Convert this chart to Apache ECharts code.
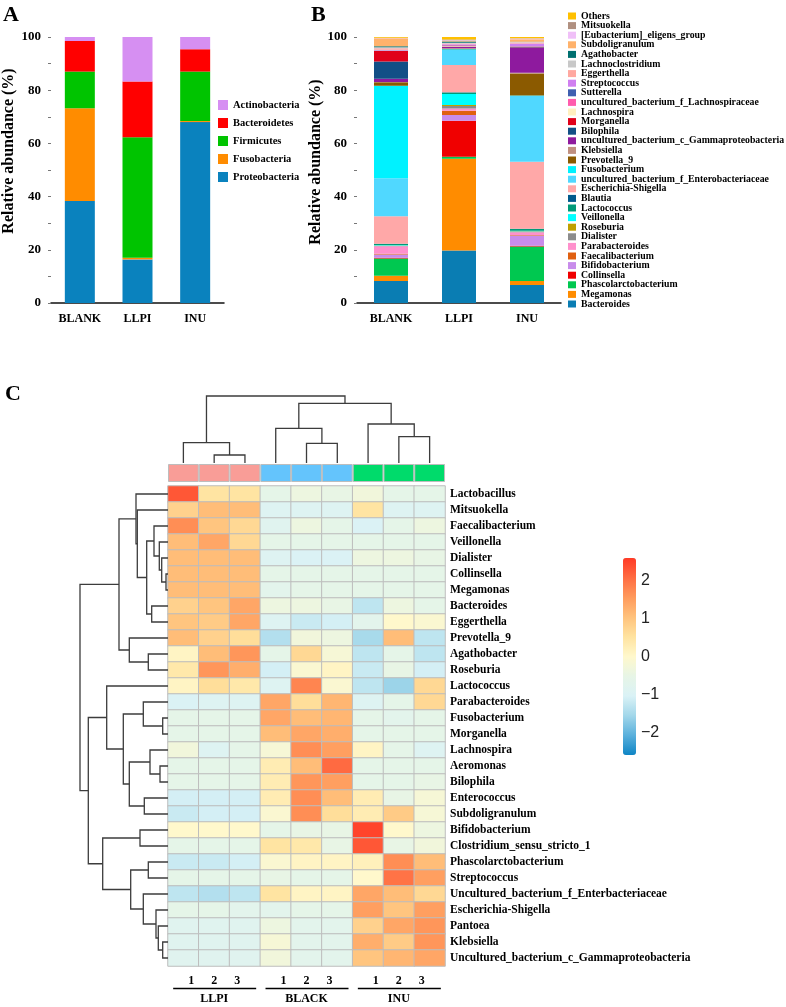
<!DOCTYPE html>
<html><head><meta charset="utf-8">
<script src="https://cdn.jsdelivr.net/npm/echarts/dist/echarts.min.js"></script>
<style>html,body{margin:0;padding:0;background:#fff}#c{width:786px;height:1007px}</style>
</head><body><div id="c"></div>
<script>
// ---------- Panel A: phylum level ----------
const groupsA = ['BLANK', 'LLPI', 'INU'];
const phyla = ['Proteobacteria', 'Fusobacteria', 'Firmicutes', 'Bacteroidetes', 'Actinobacteria']; // bottom -> top
const proteobacteria = [38.3, 16.4, 68.0];
const fusobacteria   = [34.9, 0.6, 0.4];
const firmicutes     = [13.8, 45.3, 18.6];
const bacteroidetes  = [11.5, 21.0, 8.4];
const actinobacteria = [1.5, 16.7, 4.6];
const phylumValues = [proteobacteria, fusobacteria, firmicutes, bacteroidetes, actinobacteria];
const phylumColors = ['#0A82BE', '#FF8C00', '#00C400', '#FF0000', '#D68FF2'];

// ---------- Panel B: genus level (bottom -> top) ----------
const genera = ['Bacteroides','Megamonas','Phascolarctobacterium','Collinsella','Bifidobacterium','Faecalibacterium',
  'Parabacteroides','Dialister','Roseburia','Veillonella','Lactococcus','Blautia','Escherichia-Shigella',
  'uncultured_bacterium_f_Enterobacteriaceae','Fusobacterium','Prevotella_9','Klebsiella',
  'uncultured_bacterium_c_Gammaproteobacteria','Bilophila','Morganella','Lachnospira',
  'uncultured_bacterium_f_Lachnospiraceae','Sutterella','Streptococcus','Eggerthella','Lachnoclostridium',
  'Agathobacter','Subdoligranulum','[Eubacterium]_eligens_group','Mitsuokella','Others'];
const blankGenus = [8.3,1.9,6.5,0.3,1.2,0.3,2.8,0.2,0.1,0.2,0.4,0.1,10.3,14.3,34.8,1.3,0.1,1.2,6.5,3.9,0.1,0.1,0.1,0.2,0.6,0.3,0.4,3.0,0.1,0.1,0.3];
const llpiGenus  = [19.7,34.5,0.8,13.5,2.2,1.6,0.8,1.0,0.3,4.2,0.5,0.1,10.3,5.6,0.3,0.2,0.2,0.4,0.1,0.1,0.2,0.3,0.1,0.3,0.3,0.2,0.5,0.3,0.2,0.3,0.9];
const inuGenus   = [6.8,1.5,12.9,0.3,3.9,0.2,1.0,0.3,0.1,0.2,0.6,0.1,25.2,24.7,0.2,8.3,0.3,9.4,0.1,0.1,0.1,0.2,0.1,1.0,0.3,0.2,0.1,1.0,0.2,0.1,0.5];
const genusColors = ['#0A7DB3','#FF8C00','#00C850','#F00000','#C88CEB','#E06010','#FF90CC','#8C8C8C','#C0A000',
  '#00FFFF','#009A78','#005A8C','#FFA8A8','#50D8FF','#00F2FF','#8B5A00','#C09080','#8E1A9E','#124F86',
  '#E0001A','#FFF0C0','#FF5CAD','#3F5FB0','#D07FF0','#FFA8A0','#C8C8C8','#007070','#FFB26B','#F0C0F8',
  '#B09080','#FFC000'];

// ---------- Panel C: heatmap ----------
const samples = ['LLPI1','LLPI2','LLPI3','BLACK1','BLACK2','BLACK3','INU1','INU2','INU3'];
const sampleGroup = [0,0,0,1,1,1,2,2,2];
const groupNames = ['LLPI', 'BLACK', 'INU'];
const groupColors = ['#F99D97', '#64C4FC', '#00DB6B'];
const replicateLabels = ['1', '2', '3'];
const heatGenera = ['Lactobacillus','Mitsuokella','Faecalibacterium','Veillonella','Dialister','Collinsella',
  'Megamonas','Bacteroides','Eggerthella','Prevotella_9','Agathobacter','Roseburia','Lactococcus',
  'Parabacteroides','Fusobacterium','Morganella','Lachnospira','Aeromonas','Bilophila','Enterococcus',
  'Subdoligranulum','Bifidobacterium','Clostridium_sensu_stricto_1','Phascolarctobacterium','Streptococcus',
  'Uncultured_bacterium_f_Enterbacteriaceae','Escherichia-Shigella','Pantoea','Klebsiella',
  'Uncultured_bacterium_c_Gammaproteobacteria'];
const heatValues = [
  [2.3, 0.5, 0.5, -0.6, -0.4, -0.5, -0.3, -0.6, -0.6],
  [0.8, 1.1, 1.1, -0.9, -0.9, -0.9, 0.5, -0.9, -0.9],
  [1.7, 1.0, 0.7, -0.8, -0.4, -0.6, -1.0, -0.6, -0.4],
  [1.1, 1.4, 0.7, -0.6, -0.6, -0.6, -0.6, -0.6, -0.6],
  [1.1, 1.1, 1.1, -0.9, -1.0, -1.0, -0.4, -0.4, -0.5],
  [1.1, 1.1, 1.1, -0.6, -0.6, -0.6, -0.6, -0.6, -0.6],
  [1.1, 1.1, 1.1, -0.7, -0.6, -0.6, -0.6, -0.6, -0.6],
  [0.8, 1.0, 1.4, -0.4, -0.4, -0.5, -1.3, -0.4, -0.6],
  [1.0, 0.9, 1.4, -0.9, -1.2, -1.1, -0.7, 0.0, -0.1],
  [1.1, 0.8, 0.6, -1.4, -0.3, -0.4, -1.5, 1.1, -1.3],
  [0.1, 1.1, 1.6, -0.6, 0.7, -0.2, -1.3, -0.6, -1.3],
  [0.4, 1.6, 1.3, -1.1, -0.1, 0.1, -1.2, -0.5, -1.1],
  [0.1, 0.6, 0.4, -0.9, 1.8, -0.1, -1.3, -1.6, 0.7],
  [-1.0, -0.9, -0.9, 1.4, 0.6, 1.2, -0.9, -0.6, 0.7],
  [-0.6, -0.6, -0.6, 1.4, 1.1, 1.2, -0.6, -0.7, -0.6],
  [-0.6, -0.6, -0.6, 1.1, 1.4, 1.3, -0.6, -0.6, -0.6],
  [-0.3, -0.9, -0.6, -0.2, 1.7, 1.5, 0.1, -0.6, -0.9],
  [-0.6, -0.6, -0.6, 0.3, 1.1, 2.1, -0.6, -0.6, -0.6],
  [-0.6, -0.6, -0.6, 0.3, 1.6, 1.5, -0.6, -0.6, -0.5],
  [-1.1, -1.1, -1.1, 0.3, 1.7, 1.1, 0.3, -0.5, -0.2],
  [-1.2, -1.1, -1.1, -0.1, 1.7, 0.6, 0.3, 0.9, -0.2],
  [0.0, 0.0, 0.0, -0.6, -0.5, -0.5, 2.5, 0.0, -0.4],
  [-0.6, -0.6, -0.6, 0.5, 0.4, -0.5, 2.3, -0.5, -0.3],
  [-1.2, -1.2, -1.1, -0.1, 0.1, 0.1, 0.2, 1.7, 1.1],
  [-0.6, -0.6, -0.6, -0.5, -0.6, -0.6, 0.0, 2.0, 1.5],
  [-1.3, -1.4, -1.3, 0.5, 0.1, 0.1, 1.4, 1.1, 0.7],
  [-0.6, -0.6, -0.7, -0.7, -0.6, -0.6, 1.5, 1.0, 1.5],
  [-0.8, -0.8, -0.8, -0.4, -0.7, -0.7, 0.8, 1.4, 1.6],
  [-0.8, -0.8, -0.8, -0.2, -0.7, -0.7, 1.3, 0.9, 1.6],
  [-0.8, -0.8, -0.8, -0.3, -0.7, -0.7, 1.0, 1.2, 1.4]
];
// hierarchical clustering merges: [childA, childB, height]; leaves are 0..n-1, merges numbered n, n+1, ...
const colLinkage = [[1,2,8],[0,9,20.3],[4,5,19.7],[3,11,34.7],[7,8,26.3],[6,13,39],[12,14,59.7],[10,15,67]];
const rowLinkage = [[5,6,2],[4,30,6.3],[3,31,8.7],[2,32,14],[7,8,16.3],[33,34,21.3],[1,35,30.7],[0,36,32],
  [10,11,19.7],[9,38,38.7],[37,39,49],[14,15,5.3],[13,41,24.7],[17,18,8],[16,43,18],[19,20,23.7],[44,45,38.7],
  [42,46,44.7],[12,47,61.3],[21,22,28],[23,24,19.7],[28,29,5.3],[27,51,9.7],[26,52,12],[25,53,24.7],
  [50,54,37.3],[49,55,65.3],[48,56,79.7],[40,57,88]];
const colorTicks = [2, 1, 0, -1, -2];
const scaleMin = -2.6, scaleMax = 2.6;
const scaleColors = ['#0E85C5','#5AB0DC','#A2D7EA','#DAF2F6','#E7F5E6','#FFF8CC','#FFE3A0','#FFC27C','#FF9A5C','#FF6C42','#FF3A26'];

// ---------- layout ----------
const SERIF = 'Liberation Serif';
const heat = {left: 168, top: 486, cellW: 30.78, cellH: 16};
const heatW = heat.cellW * samples.length, heatH = heat.cellH * heatGenera.length;
const vm = {left: 623, top: 558, w: 13, h: 197};

function buildDendro(n, linkage) {
  const pos = [], ht = [];
  for (let i = 0; i < n; i++) { pos[i] = i + 0.5; ht[i] = 0; }
  return linkage.map(([a, b, h], k) => {
    const id = n + k; pos[id] = (pos[a] + pos[b]) / 2; ht[id] = h;
    return [pos[a], ht[a], pos[b], ht[b], h];
  });
}
function dendroRender(horizontalLeaves) {
  return function (params, api) {
    const p1 = api.value(0), h1 = api.value(1), p2 = api.value(2), h2 = api.value(3), hm = api.value(4);
    const pt = horizontalLeaves ? (p, h) => api.coord([p, h]) : (p, h) => api.coord([h, p]);
    return {type: 'polyline', shape: {points: [pt(p1, h1), pt(p1, hm), pt(p2, hm), pt(p2, h2)]},
      style: {stroke: '#3c3c3c', lineWidth: 1.3, fill: null}};
  };
}

const series = [];
phyla.forEach((p, i) => series.push({
  name: p, type: 'bar', stack: 'A', xAxisIndex: 0, yAxisIndex: 0, barWidth: 30,
  itemStyle: {color: phylumColors[i]}, data: phylumValues[i]
}));
genera.forEach((g, i) => series.push({
  name: g, type: 'bar', stack: 'B', xAxisIndex: 1, yAxisIndex: 1, barWidth: 34,
  itemStyle: {color: genusColors[i]}, data: [blankGenus[i], llpiGenus[i], inuGenus[i]]
}));
const heatData = [];
heatValues.forEach((row, r) => row.forEach((v, c) => heatData.push([c, r, v])));
const heatIndex = series.length;
series.push({type: 'heatmap', xAxisIndex: 2, yAxisIndex: 2, data: heatData,
  itemStyle: {borderColor: '#BDBDBD', borderWidth: 1}, emphasis: {disabled: true}});
series.push({type: 'bar', xAxisIndex: 3, yAxisIndex: 3, barCategoryGap: 0, silent: true,
  data: samples.map((s, i) => ({value: 1, itemStyle: {color: groupColors[sampleGroup[i]], borderColor: '#BDBDBD', borderWidth: 1}}))});
series.push({type: 'custom', xAxisIndex: 4, yAxisIndex: 4, silent: true, renderItem: dendroRender(true),
  encode: {x: [0, 2], y: [1, 3, 4]}, data: buildDendro(samples.length, colLinkage)});
series.push({type: 'custom', xAxisIndex: 5, yAxisIndex: 5, silent: true, renderItem: dendroRender(false),
  encode: {x: [1, 3, 4], y: [0, 2]}, data: buildDendro(heatGenera.length, rowLinkage)});

const boldSerif = (size) => ({fontFamily: SERIF, fontWeight: 'bold', fontSize: size, color: '#000'});
function barYAxis(gi, gap, shiftUp) {
  return {gridIndex: gi, type: 'value', min: 0, max: 100, interval: 20,
    axisLine: {show: false}, splitLine: {show: false},
    axisTick: {show: true, length: 3, lineStyle: {color: '#777'}},
    minorTick: {show: true, splitNumber: 2, length: 3, lineStyle: {color: '#777'}},
    axisLabel: Object.assign(boldSerif(13), {margin: 10}),
    name: 'Relative abundance (%)', nameLocation: 'middle', nameGap: gap,
    nameTextStyle: Object.assign(boldSerif(16), {padding: [0, 0, 0, shiftUp * 2]})};
}
function barXAxis(gi) {
  return {gridIndex: gi, type: 'category', data: groupsA,
    axisLine: {lineStyle: {color: '#111', width: 1.5}}, axisTick: {show: false},
    axisLabel: Object.assign(boldSerif(12), {margin: 10})};
}
const hidden = {show: false};

const graphic = [
  {type: 'text', left: 3, top: 4, style: {text: 'A', font: 'bold 22px "Liberation Serif"', fill: '#000'}},
  {type: 'text', left: 311, top: 4, style: {text: 'B', font: 'bold 22px "Liberation Serif"', fill: '#000'}},
  {type: 'text', left: 5, top: 383, style: {text: 'C', font: 'bold 22px "Liberation Serif"', fill: '#000'}}
];
colorTicks.forEach(t => {
  const y = vm.top + (scaleMax - t) / (scaleMax - scaleMin) * vm.h;
  graphic.push({type: 'text', x: vm.left + vm.w + 5, y: y, style: {
    text: (t < 0 ? '\u2212' + Math.abs(t) : String(t)), font: '16px "Liberation Sans"', fill: '#222',
    textVerticalAlign: 'middle', verticalAlign: 'middle'}});
});
groupNames.forEach((g, gi) => {
  const cx = heat.left + heat.cellW * (gi * 3 + 1.5);
  replicateLabels.forEach((r, ri) => graphic.push({type: 'text', x: cx + (ri - 1) * 23, y: 981, style: {
    text: r, font: 'bold 12px "Liberation Serif"', fill: '#000', align: 'center', textAlign: 'center',
    verticalAlign: 'middle', textVerticalAlign: 'middle'}}));
  graphic.push({type: 'line', shape: {x1: cx - 41, y1: 988.5, x2: cx + 42, y2: 988.5}, style: {stroke: '#000', lineWidth: 1.5}});
  graphic.push({type: 'text', x: cx, y: 999, style: {
    text: g, font: 'bold 12px "Liberation Serif"', fill: '#000', align: 'center', textAlign: 'center',
    verticalAlign: 'middle', textVerticalAlign: 'middle'}});
});

const option = {
  animation: false,
  backgroundColor: '#fff',
  grid: [
    {left: 46, top: 37, width: 178, height: 266},
    {left: 357, top: 37, width: 204, height: 266},
    {left: heat.left, top: heat.top, width: heatW, height: heatH},
    {left: heat.left, top: 464, width: heatW, height: 18},
    {left: heat.left, top: 396, width: heatW, height: 67},
    {left: 80, top: heat.top, width: 88, height: heatH}
  ],
  xAxis: [
    barXAxis(0), barXAxis(1),
    {gridIndex: 2, type: 'category', data: samples, show: false},
    {gridIndex: 3, type: 'category', data: samples, show: false},
    {gridIndex: 4, type: 'value', min: 0, max: samples.length, show: false},
    {gridIndex: 5, type: 'value', min: 0, max: 88, inverse: true, show: false}
  ],
  yAxis: [
    barYAxis(0, 34, 19), barYAxis(1, 29, 8),
    {gridIndex: 2, type: 'category', data: heatGenera, inverse: true, position: 'right',
      axisLine: hidden, axisTick: hidden, splitLine: hidden,
      axisLabel: Object.assign(boldSerif(11.5), {margin: 5, align: 'left'})},
    {gridIndex: 3, type: 'value', min: 0, max: 1, show: false},
    {gridIndex: 4, type: 'value', min: 0, max: 67, show: false},
    {gridIndex: 5, type: 'value', min: 0, max: heatGenera.length, inverse: true, show: false}
  ],
  legend: [
    {data: phyla.slice().reverse(), orient: 'vertical', left: 218, top: 99, padding: 0, itemWidth: 10, itemHeight: 10,
      itemGap: 6, icon: 'rect', selectedMode: false, textStyle: Object.assign(boldSerif(10.5), {lineHeight: 12})},
    {data: genera.slice().reverse(), orient: 'vertical', left: 568, top: 11, padding: 0, itemWidth: 8, itemHeight: 7,
      itemGap: -0.4, icon: 'rect', selectedMode: false, textStyle: Object.assign(boldSerif(9.8), {lineHeight: 9.6})}
  ],
  visualMap: {type: 'continuous', min: scaleMin, max: scaleMax, seriesIndex: heatIndex, calculable: false,
    left: vm.left, top: vm.top, itemWidth: vm.w, itemHeight: vm.h, padding: 0, text: ['', ''],
    inRange: {color: scaleColors}, hoverLink: false},
  graphic: graphic,
  series: series
};
const chart = echarts.init(document.getElementById('c'), null, {renderer: 'canvas'});
chart.setOption(option);
</script></body></html>
